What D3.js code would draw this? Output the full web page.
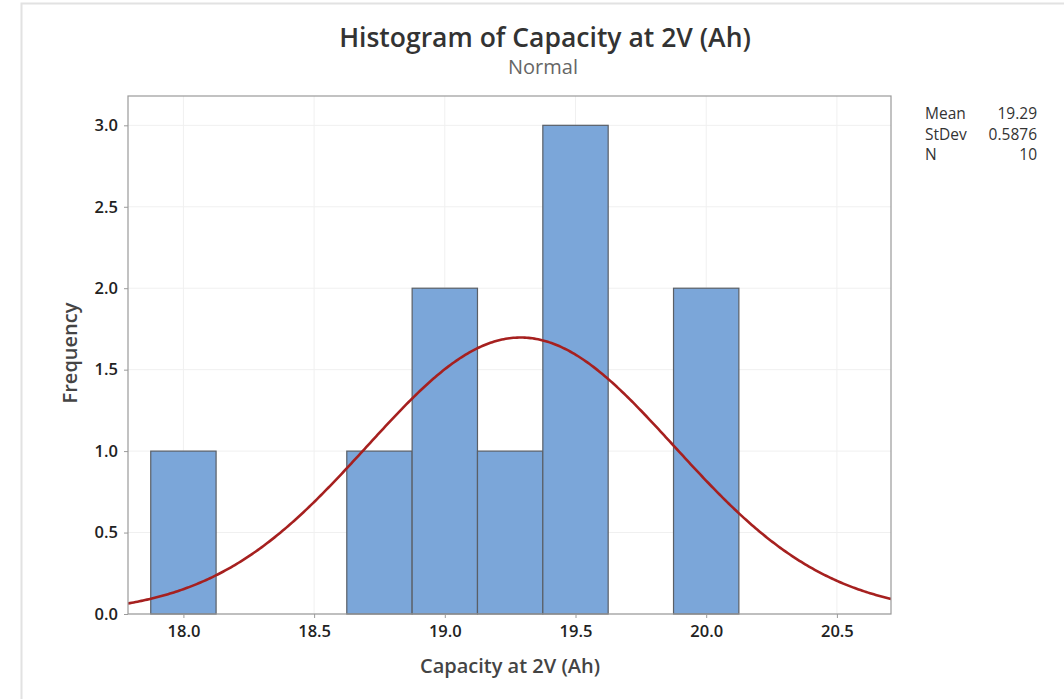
<!DOCTYPE html>
<html><head><meta charset="utf-8">
<script src="https://cdn.jsdelivr.net/npm/d3@7"></script>
<style>
body{margin:0;background:#fff;}
svg{display:block;font-family:"Open Sans","Noto Sans",sans-serif;}
</style></head>
<body>
<svg id="c" width="1064" height="699"></svg>
<script>
const binCenters = [18.0, 18.25, 18.5, 18.75, 19.0, 19.25, 19.5, 19.75, 20.0];
const counts     = [1, 0, 0, 1, 2, 1, 3, 0, 2];
const binWidth = 0.25;
const xTicks = [18.0, 18.5, 19.0, 19.5, 20.0, 20.5];
const yTicks = [0, 0.5, 1.0, 1.5, 2.0, 2.5, 3.0];
const statLabels = ["Mean", "StDev", "N"];
const statValues = ["19.29", "0.5876", "10"];
const mean = 19.29, sd = 0.5876, n = 10;

const svg = d3.select("#c");
// outer frame
svg.append("rect").attr("x",21.5).attr("y",3.5).attr("width",1050).attr("height",700)
  .attr("fill","none").attr("stroke","#e2e2e2").attr("stroke-width",2);

const L=128, R=891, T=96, B=614;
const x = d3.scaleLinear().domain([17.788, 20.707]).range([L, R]);
const y = d3.scaleLinear().domain([0, 3.18]).range([B, T]);

// gridlines
svg.append("g").selectAll("line").data(xTicks).join("line")
  .attr("x1",d=>x(d)).attr("x2",d=>x(d)).attr("y1",T).attr("y2",B)
  .attr("stroke","#f0f0f0").attr("stroke-width",1);
svg.append("g").selectAll("line").data(yTicks).join("line")
  .attr("x1",L).attr("x2",R).attr("y1",d=>y(d)).attr("y2",d=>y(d))
  .attr("stroke","#f0f0f0").attr("stroke-width",1);

// bars
svg.append("g").selectAll("rect").data(binCenters).join("rect")
  .attr("x",(d)=>x(d-binWidth/2))
  .attr("width",(d)=>x(d+binWidth/2)-x(d-binWidth/2))
  .attr("y",(d,i)=>y(counts[i]))
  .attr("height",(d,i)=>y(0)-y(counts[i]))
  .attr("fill","#7ba6d9").attr("stroke","#5a5f66").attr("stroke-width",1.2);

// normal curve
const clipId="plotclip";
svg.append("clipPath").attr("id",clipId).append("rect").attr("x",L).attr("y",T).attr("width",R-L).attr("height",B-T);
const pts = d3.range(0,401).map(i=>{
  const xv = 17.788 + (20.707-17.788)*i/400;
  const yv = n*binWidth/(sd*Math.sqrt(2*Math.PI))*Math.exp(-0.5*Math.pow((xv-mean)/sd,2));
  return [xv,yv];
});
svg.append("path").datum(pts).attr("clip-path",`url(#${clipId})`)
  .attr("d",d3.line().x(d=>x(d[0])).y(d=>y(d[1])))
  .attr("fill","none").attr("stroke","#a6201f").attr("stroke-width",2.6);

// plot frame
svg.append("rect").attr("x",L).attr("y",T).attr("width",R-L).attr("height",B-T)
  .attr("fill","none").attr("stroke","#9a9a9a").attr("stroke-width",1.2);

// axes
const xa = svg.append("g").attr("transform",`translate(0,${B})`)
  .call(d3.axisBottom(x).tickValues(xTicks).tickFormat(d3.format(".1f")).tickSize(4).tickPadding(7));
const ya = svg.append("g").attr("transform",`translate(${L},0)`)
  .call(d3.axisLeft(y).tickValues(yTicks).tickFormat(d3.format(".1f")).tickSize(4).tickPadding(6));
[xa,ya].forEach(g=>{
  g.select(".domain").remove();
  g.selectAll(".tick line").attr("stroke","#9a9a9a");
  g.selectAll(".tick text").attr("fill","#222").attr("font-size",16.5).attr("font-weight",600)
   .attr("font-family","'Open Sans','Noto Sans',sans-serif");
});

// titles
svg.append("text").attr("x",545).attr("y",47).attr("text-anchor","middle")
  .attr("font-size",26.5).attr("font-weight",600).attr("fill","#333")
  .text("Histogram of Capacity at 2V (Ah)");
svg.append("text").attr("x",543).attr("y",74).attr("text-anchor","middle")
  .attr("font-size",20).attr("fill","#666").text("Normal");
svg.append("text").attr("x",510).attr("y",673).attr("text-anchor","middle")
  .attr("font-size",20).attr("font-weight",600).attr("fill","#444").text("Capacity at 2V (Ah)");
svg.append("text").attr("transform","translate(77,353) rotate(-90)").attr("text-anchor","middle")
  .attr("font-size",20).attr("font-weight",600).attr("fill","#444").text("Frequency");

// stats
const sg = svg.append("g");
statLabels.forEach((s,i)=>{
  sg.append("text").attr("x",925).attr("y",119+i*20.5).attr("font-size",15.5).attr("font-weight",500).attr("fill","#333").text(s);
  sg.append("text").attr("x",1037).attr("y",119+i*20.5).attr("text-anchor","end").attr("font-size",15.5).attr("font-weight",500).attr("fill","#333").text(statValues[i]);
});
</script>
</body></html>
